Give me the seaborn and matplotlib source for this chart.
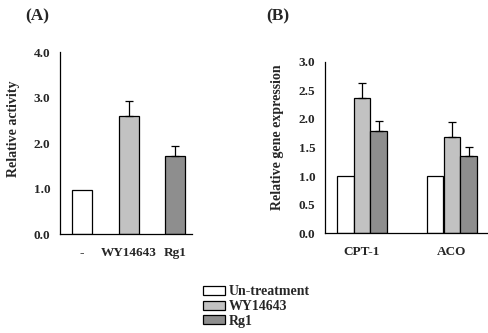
import matplotlib
matplotlib.use("Agg")
import matplotlib.pyplot as plt
import seaborn as sns
import pandas as pd
from matplotlib.patches import Patch

sns.set_style("white")
plt.rcParams['font.family'] = ['Liberation Serif', 'DejaVu Serif']
plt.rcParams['font.weight'] = 'bold'

# Panel A data
a_labels = ["-", "WY14643", "Rg1"]
a_values = [0.97, 2.61, 1.73]
a_err = [0.0, 0.33, 0.21]

# Panel B data
b_genes = ["CPT-1", "ACO"]
b_treat = ["Un-treatment", "WY14643", "Rg1"]
b_values = {"Un-treatment": [1.0, 1.0], "WY14643": [2.37, 1.68], "Rg1": [1.79, 1.36]}
b_err = {"Un-treatment": [0.0, 0.0], "WY14643": [0.25, 0.26], "Rg1": [0.18, 0.15]}

colors = ["#ffffff", "#c2c2c2", "#8e8e8e"]

fig = plt.figure(figsize=(4.88, 3.33), dpi=100)
axA = fig.add_axes([60/488, 1-234.3/333, 132/488, (234.3-52.3)/333])
axB = fig.add_axes([325/488, 1-233.3/333, 162/488, (233.3-61.7)/333])

tick_font = dict(fontsize=9.5, fontweight='bold')
lab_font = dict(fontsize=10, fontweight='bold')

# Panel A
dfA = pd.DataFrame({"cat": a_labels, "val": a_values})
sns.barplot(data=dfA, x="cat", y="val", hue="cat", palette=colors, ax=axA,
            width=0.43, edgecolor="black", linewidth=0.9, legend=False, errorbar=None)
for p, e in zip(axA.patches, a_err):
    if e > 0:
        cx = p.get_x() + p.get_width() / 2
        axA.errorbar(cx, p.get_height(), yerr=[[0], [e]], fmt='none', ecolor='black',
                     elinewidth=0.9, capsize=3, capthick=0.9)
axA.set_ylim(0, 4.0)
axA.set_xlim(-0.47, 2.36)
axA.set_yticks([0, 1, 2, 3, 4])
axA.set_yticklabels(["0.0", "1.0", "2.0", "3.0", "4.0"], **tick_font)
axA.set_xticks([0, 1, 2])
axA.set_xticklabels(a_labels, **tick_font)
axA.set_xticks([0.5, 1.5], minor=True)
axA.tick_params(axis='x', which='major', length=0, pad=9)
axA.tick_params(axis='x', which='minor', length=3, width=0.9, direction='out', color='black')
axA.tick_params(axis='y', length=3, width=0.9, direction='out', color='black', pad=4)
axA.set_xlabel("")
axA.set_ylabel("Relative activity", **lab_font)
axA.yaxis.set_label_coords(-0.30, 0.58)
sns.despine(ax=axA)
for s in ["left", "bottom"]:
    axA.spines[s].set_color("black")
    axA.spines[s].set_linewidth(0.9)

# Panel B
rows = []
for t in b_treat:
    for g, v in zip(b_genes, b_values[t]):
        rows.append({"gene": g, "treat": t, "val": v})
dfB = pd.DataFrame(rows)
sns.barplot(data=dfB, x="gene", y="val", hue="treat", hue_order=b_treat, palette=colors,
            ax=axB, width=0.56, edgecolor="black", linewidth=0.9, errorbar=None)
errs = [e for t in b_treat for e in b_err[t]]
for p, e in zip(axB.patches, errs):
    if e > 0:
        cx = p.get_x() + p.get_width() / 2
        axB.errorbar(cx, p.get_height(), yerr=[[0], [e]], fmt='none', ecolor='black',
                     elinewidth=0.9, capsize=3, capthick=0.9)
if axB.get_legend() is not None:
    axB.get_legend().remove()
axB.set_ylim(0, 3.0)
axB.set_xlim(-0.41, 1.39)
axB.set_yticks([0, 0.5, 1.0, 1.5, 2.0, 2.5, 3.0])
axB.set_yticklabels(["0.0", "0.5", "1.0", "1.5", "2.0", "2.5", "3.0"], **tick_font)
axB.set_xticks([0, 1])
axB.set_xticklabels(b_genes, **tick_font)
axB.tick_params(axis='x', length=0, pad=9)
axB.tick_params(axis='y', length=3, width=0.9, direction='out', color='black', pad=4)
axB.set_xlabel("")
axB.set_ylabel("Relative gene expression", **lab_font)
axB.yaxis.set_label_coords(-0.255, 0.56)
sns.despine(ax=axB)
for s in ["left", "bottom"]:
    axB.spines[s].set_color("black")
    axB.spines[s].set_linewidth(0.9)

fig.text(25/488, 1-16/333, "(A)", fontsize=12.5, fontweight='bold', va='center')
fig.text(266/488, 1-16/333, "(B)", fontsize=12.5, fontweight='bold', va='center')

handles = [Patch(facecolor=c, edgecolor='black', linewidth=0.9, label=t) for c, t in zip(colors, b_treat)]
fig.legend(handles=handles, loc='upper left', bbox_to_anchor=(202/488, 1-284/333), frameon=False,
           prop={'size': 10, 'weight': 'bold'}, handlelength=1.55, handleheight=0.65,
           labelspacing=0.12, handletextpad=0.25, borderpad=0.1, borderaxespad=0)

fig.savefig("out.png", dpi=100)
